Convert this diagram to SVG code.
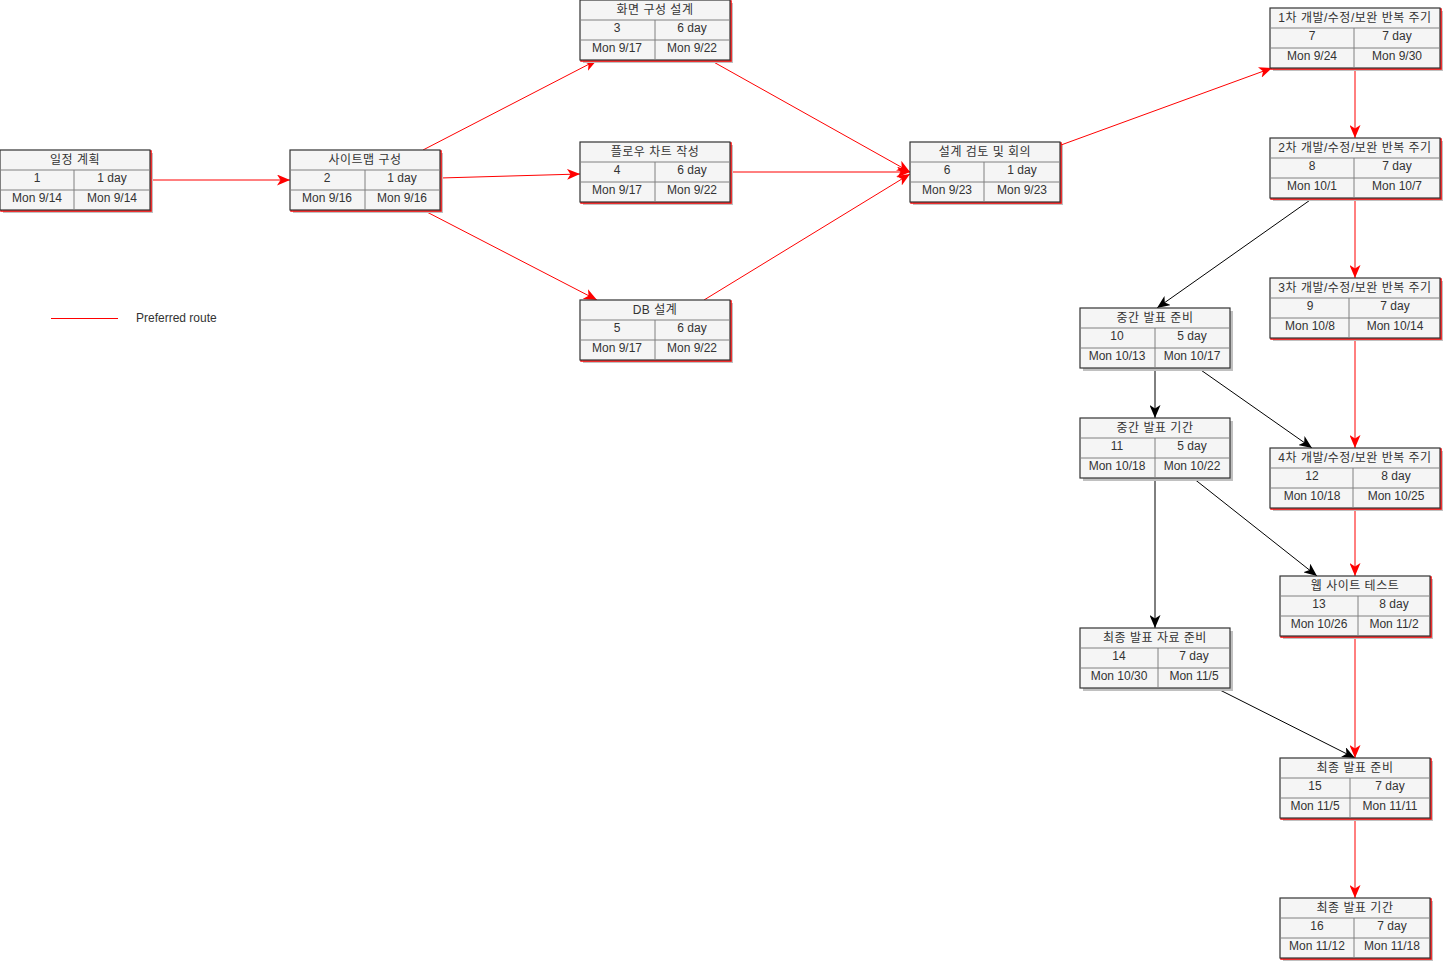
<svg xmlns="http://www.w3.org/2000/svg" width="1444" height="964" viewBox="0 0 1444 964">
<style>
.sh{fill:#c0c0c0;stroke:none}
.crit{fill:none;stroke:#ff0000;stroke-width:1.5}
.box{fill:#f5f5f5;stroke:#333333;stroke-width:1.2}
.dv{fill:none;stroke:#808080;stroke-width:1}
text{font-family:"Liberation Sans","Noto Sans CJK KR",sans-serif;font-size:12px;fill:#333333;text-anchor:middle}
.tt{font-size:12px;letter-spacing:0.5px}
.leg{text-anchor:start}
.er{fill:none;stroke:#ff0000;stroke-width:1}
.eb{fill:none;stroke:#000000;stroke-width:1}
</style>
<defs>
<marker id="ar" viewBox="0 0 13 11" refX="13" refY="5.5" markerWidth="13" markerHeight="11" markerUnits="userSpaceOnUse" orient="auto">
<path d="M0,0 L13,5.5 L0,11 L3.5,5.5 Z" fill="#ff0000"/>
</marker>
<marker id="ab" viewBox="0 0 13 11" refX="13" refY="5.5" markerWidth="13" markerHeight="11" markerUnits="userSpaceOnUse" orient="auto">
<path d="M0,0 L13,5.5 L0,11 L3.5,5.5 Z" fill="#000000"/>
</marker>
</defs>
<rect width="1444" height="964" fill="#ffffff"/>

<g id="edges">
<line class="er" x1="150" y1="180" x2="290" y2="180" marker-end="url(#ar)"/>
<line class="er" x1="423" y1="150" x2="597" y2="60" marker-end="url(#ar)"/>
<line class="er" x1="440" y1="178" x2="580" y2="174" marker-end="url(#ar)"/>
<line class="er" x1="423" y1="210" x2="597" y2="300" marker-end="url(#ar)"/>
<line class="er" x1="710" y1="60" x2="910" y2="172" marker-end="url(#ar)"/>
<line class="er" x1="730" y1="172" x2="910" y2="172" marker-end="url(#ar)"/>
<line class="er" x1="704" y1="300" x2="910" y2="174" marker-end="url(#ar)"/>
<line class="er" x1="1061" y1="145" x2="1272" y2="68" marker-end="url(#ar)"/>
<line class="er" x1="1355" y1="68" x2="1355" y2="138" marker-end="url(#ar)"/>
<line class="eb" x1="1313" y1="198" x2="1157" y2="308" marker-end="url(#ab)"/>
<line class="er" x1="1355" y1="198" x2="1355" y2="278" marker-end="url(#ar)"/>
<line class="er" x1="1355" y1="338" x2="1355" y2="448" marker-end="url(#ar)"/>
<line class="eb" x1="1155" y1="368" x2="1155" y2="418" marker-end="url(#ab)"/>
<line class="eb" x1="1198" y1="368" x2="1312" y2="448" marker-end="url(#ab)"/>
<line class="eb" x1="1155" y1="478" x2="1155" y2="628" marker-end="url(#ab)"/>
<line class="eb" x1="1193" y1="478" x2="1317" y2="576" marker-end="url(#ab)"/>
<line class="er" x1="1355" y1="508" x2="1355" y2="576" marker-end="url(#ar)"/>
<line class="eb" x1="1216" y1="688" x2="1355" y2="758" marker-end="url(#ab)"/>
<line class="er" x1="1355" y1="636" x2="1355" y2="758" marker-end="url(#ar)"/>
<line class="er" x1="1355" y1="818" x2="1355" y2="898" marker-end="url(#ar)"/>
</g>

<g id="legend">
<line x1="51" y1="318.5" x2="118" y2="318.5" stroke="#ff0000" stroke-width="1"/>
<text class="leg" x="136" y="322">Preferred route</text>
</g>

<g id="n1" transform="translate(0,150)">
<rect class="sh" x="3" y="3" width="150" height="60"/>
<rect class="crit" x="1" y="1" width="150" height="60"/>
<rect class="box" width="150" height="60"/>
<path class="dv" d="M0,20H150M0,40H150M74,20V60"/>
<text class="tt" x="75" y="14">일정 계획</text>
<text x="37" y="32">1</text><text x="112" y="32">1 day</text>
<text x="37" y="52">Mon 9/14</text><text x="112" y="52">Mon 9/14</text>
</g>

<g id="n2" transform="translate(290,150)">
<rect class="sh" x="3" y="3" width="150" height="60"/>
<rect class="crit" x="1" y="1" width="150" height="60"/>
<rect class="box" width="150" height="60"/>
<path class="dv" d="M0,20H150M0,40H150M75,20V60"/>
<text class="tt" x="75" y="14">사이트맵 구성</text>
<text x="37" y="32">2</text><text x="112" y="32">1 day</text>
<text x="37" y="52">Mon 9/16</text><text x="112" y="52">Mon 9/16</text>
</g>

<g id="n3" transform="translate(580,0)">
<rect class="sh" x="3" y="3" width="150" height="60"/>
<rect class="crit" x="1" y="1" width="150" height="60"/>
<rect class="box" width="150" height="60"/>
<path class="dv" d="M0,20H150M0,40H150M75,20V60"/>
<text class="tt" x="75" y="14">화면 구성 설계</text>
<text x="37" y="32">3</text><text x="112" y="32">6 day</text>
<text x="37" y="52">Mon 9/17</text><text x="112" y="52">Mon 9/22</text>
</g>

<g id="n4" transform="translate(580,142)">
<rect class="sh" x="3" y="3" width="150" height="60"/>
<rect class="crit" x="1" y="1" width="150" height="60"/>
<rect class="box" width="150" height="60"/>
<path class="dv" d="M0,20H150M0,40H150M75,20V60"/>
<text class="tt" x="75" y="14">플로우 차트 작성</text>
<text x="37" y="32">4</text><text x="112" y="32">6 day</text>
<text x="37" y="52">Mon 9/17</text><text x="112" y="52">Mon 9/22</text>
</g>

<g id="n5" transform="translate(580,300)">
<rect class="sh" x="3" y="3" width="150" height="60"/>
<rect class="crit" x="1" y="1" width="150" height="60"/>
<rect class="box" width="150" height="60"/>
<path class="dv" d="M0,20H150M0,40H150M75,20V60"/>
<text class="tt" x="75" y="14">DB 설계</text>
<text x="37" y="32">5</text><text x="112" y="32">6 day</text>
<text x="37" y="52">Mon 9/17</text><text x="112" y="52">Mon 9/22</text>
</g>

<g id="n6" transform="translate(910,142)">
<rect class="sh" x="3" y="3" width="150" height="60"/>
<rect class="crit" x="1" y="1" width="150" height="60"/>
<rect class="box" width="150" height="60"/>
<path class="dv" d="M0,20H150M0,40H150M74,20V60"/>
<text class="tt" x="75" y="14">설계 검토 및 회의</text>
<text x="37" y="32">6</text><text x="112" y="32">1 day</text>
<text x="37" y="52">Mon 9/23</text><text x="112" y="52">Mon 9/23</text>
</g>

<g id="n7" transform="translate(1270,8)">
<rect class="sh" x="3" y="3" width="170" height="60"/>
<rect class="crit" x="1" y="1" width="170" height="60"/>
<rect class="box" width="170" height="60"/>
<path class="dv" d="M0,20H170M0,40H170M84,20V60"/>
<text class="tt" x="85" y="14">1차 개발/수정/보완 반복 주기</text>
<text x="42" y="32">7</text><text x="127" y="32">7 day</text>
<text x="42" y="52">Mon 9/24</text><text x="127" y="52">Mon 9/30</text>
</g>

<g id="n8" transform="translate(1270,138)">
<rect class="sh" x="3" y="3" width="170" height="60"/>
<rect class="crit" x="1" y="1" width="170" height="60"/>
<rect class="box" width="170" height="60"/>
<path class="dv" d="M0,20H170M0,40H170M84,20V60"/>
<text class="tt" x="85" y="14">2차 개발/수정/보완 반복 주기</text>
<text x="42" y="32">8</text><text x="127" y="32">7 day</text>
<text x="42" y="52">Mon 10/1</text><text x="127" y="52">Mon 10/7</text>
</g>

<g id="n9" transform="translate(1270,278)">
<rect class="sh" x="3" y="3" width="170" height="60"/>
<rect class="crit" x="1" y="1" width="170" height="60"/>
<rect class="box" width="170" height="60"/>
<path class="dv" d="M0,20H170M0,40H170M79,20V60"/>
<text class="tt" x="85" y="14">3차 개발/수정/보완 반복 주기</text>
<text x="40" y="32">9</text><text x="125" y="32">7 day</text>
<text x="40" y="52">Mon 10/8</text><text x="125" y="52">Mon 10/14</text>
</g>

<g id="n10" transform="translate(1080,308)">
<rect class="sh" x="3" y="3" width="150" height="60"/>
<rect class="box" width="150" height="60"/>
<path class="dv" d="M0,20H150M0,40H150M75,20V60"/>
<text class="tt" x="75" y="14">중간 발표 준비</text>
<text x="37" y="32">10</text><text x="112" y="32">5 day</text>
<text x="37" y="52">Mon 10/13</text><text x="112" y="52">Mon 10/17</text>
</g>

<g id="n11" transform="translate(1080,418)">
<rect class="sh" x="3" y="3" width="150" height="60"/>
<rect class="box" width="150" height="60"/>
<path class="dv" d="M0,20H150M0,40H150M75,20V60"/>
<text class="tt" x="75" y="14">중간 발표 기간</text>
<text x="37" y="32">11</text><text x="112" y="32">5 day</text>
<text x="37" y="52">Mon 10/18</text><text x="112" y="52">Mon 10/22</text>
</g>

<g id="n12" transform="translate(1270,448)">
<rect class="sh" x="3" y="3" width="170" height="60"/>
<rect class="crit" x="1" y="1" width="170" height="60"/>
<rect class="box" width="170" height="60"/>
<path class="dv" d="M0,20H170M0,40H170M83,20V60"/>
<text class="tt" x="85" y="14">4차 개발/수정/보완 반복 주기</text>
<text x="42" y="32">12</text><text x="126" y="32">8 day</text>
<text x="42" y="52">Mon 10/18</text><text x="126" y="52">Mon 10/25</text>
</g>

<g id="n13" transform="translate(1280,576)">
<rect class="sh" x="3" y="3" width="150" height="60"/>
<rect class="crit" x="1" y="1" width="150" height="60"/>
<rect class="box" width="150" height="60"/>
<path class="dv" d="M0,20H150M0,40H150M78,20V60"/>
<text class="tt" x="75" y="14">웹 사이트 테스트</text>
<text x="39" y="32">13</text><text x="114" y="32">8 day</text>
<text x="39" y="52">Mon 10/26</text><text x="114" y="52">Mon 11/2</text>
</g>

<g id="n14" transform="translate(1080,628)">
<rect class="sh" x="3" y="3" width="150" height="60"/>
<rect class="box" width="150" height="60"/>
<path class="dv" d="M0,20H150M0,40H150M78,20V60"/>
<text class="tt" x="75" y="14">최종 발표 자료 준비</text>
<text x="39" y="32">14</text><text x="114" y="32">7 day</text>
<text x="39" y="52">Mon 10/30</text><text x="114" y="52">Mon 11/5</text>
</g>

<g id="n15" transform="translate(1280,758)">
<rect class="sh" x="3" y="3" width="150" height="60"/>
<rect class="crit" x="1" y="1" width="150" height="60"/>
<rect class="box" width="150" height="60"/>
<path class="dv" d="M0,20H150M0,40H150M70,20V60"/>
<text class="tt" x="75" y="14">최종 발표 준비</text>
<text x="35" y="32">15</text><text x="110" y="32">7 day</text>
<text x="35" y="52">Mon 11/5</text><text x="110" y="52">Mon 11/11</text>
</g>

<g id="n16" transform="translate(1280,898)">
<rect class="sh" x="3" y="3" width="150" height="60"/>
<rect class="crit" x="1" y="1" width="150" height="60"/>
<rect class="box" width="150" height="60"/>
<path class="dv" d="M0,20H150M0,40H150M74,20V60"/>
<text class="tt" x="75" y="14">최종 발표 기간</text>
<text x="37" y="32">16</text><text x="112" y="32">7 day</text>
<text x="37" y="52">Mon 11/12</text><text x="112" y="52">Mon 11/18</text>
</g>
</svg>
